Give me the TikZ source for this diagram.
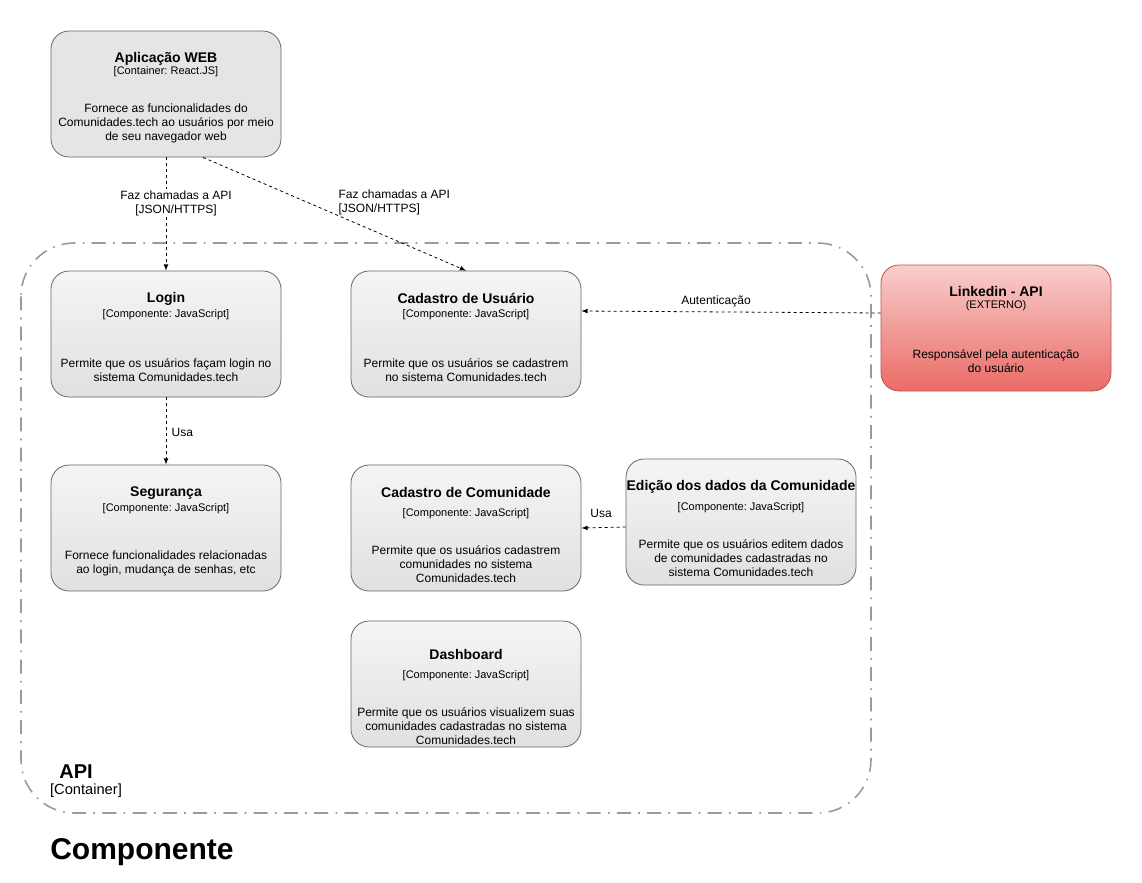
\documentclass[tikz,border=0pt]{standalone}
\usepackage{fontspec}
\setmainfont{Liberation Sans}
\frenchspacing
\usetikzlibrary{arrows}
\usetikzlibrary{calc,positioning}

\definecolor{extTop}{HTML}{F8CECC}
\definecolor{extBot}{HTML}{EA6B66}
\definecolor{extLine}{HTML}{B85450}
\definecolor{boxLine}{HTML}{666666}
\definecolor{bndLine}{HTML}{9A9A9A}

\tikzset{
  compbox/.style={draw=boxLine, line width=0.6pt, rounded corners=13.5pt,
    minimum width=172.5pt, minimum height=94.5pt, top color=black!4, bottom color=black!12},
  webbox/.style={compbox, top color=black!10, bottom color=black!10},
  extbox/.style={compbox, draw=extLine, top color=extTop, bottom color=extBot},
  ttl/.style={font=\fontsize{10.5}{12}\selectfont\bfseries, inner sep=0pt},
  tech/.style={font=\fontsize{8.25}{10}\selectfont, inner sep=0pt},
  desc/.style={font=\fontsize{9}{10.5}\selectfont, align=center, inner sep=0pt},
  lbl/.style={font=\fontsize{9}{10.5}\selectfont, align=center, inner sep=1pt},
  call/.style={dash pattern=on 2.25pt off 2.25pt, line width=0.6pt, -latex},
  boundary/.style={draw=bndLine, line width=1.2pt, rounded corners=40pt,
    dash pattern=on 10.5pt off 5.5pt on 1.2pt off 5.5pt},
}

% box with title, technology and description, offsets in px from the top edge
\newcommand{\compnode}[9]{%
  \node[#2] (#1) at (#3) {};
  \node[ttl] (#1-ttl) at ($(#1.north)+(0,#7)$) {#4};
  \node[tech] (#1-tech) at ($(#1.north)+(0,#8)$) {#5};
  \node[desc] (#1-desc) at ($(#1.north)+(0,#9)$) {#6};
}

\begin{document}
\begin{tikzpicture}[x=0.75pt,y=-0.75pt]

  \useasboundingbox (0,0) rectangle (1142,882);

  % container boundary
  \draw[boundary] (21,243) rectangle (871,813);
  \node[font=\fontsize{15}{17}\selectfont\bfseries, inner sep=0pt] (api-ttl) at (76,772) {API};
  \node[font=\fontsize{11}{13}\selectfont, inner sep=0pt] (api-tech) at (86,791) {[Container]};
  \node[font=\fontsize{22.5}{26}\selectfont\bfseries, inner sep=0pt, anchor=west] (diag-ttl) at (50,852) {Componente};

  \compnode{web}{webbox}{166,94}{Aplicação WEB}{[Container: React.JS]}
    {Fornece as funcionalidades do\\Comunidades.tech ao usuários por meio\\de seu navegador web}{28}{41}{93}

  \compnode{login}{compbox}{166,334}{Login}{[Componente: JavaScript]}
    {Permite que os usuários façam login no\\sistema Comunidades.tech}{28}{44}{100}

  \compnode{cadu}{compbox}{466,334}{Cadastro de Usuário}{[Componente: JavaScript]}
    {Permite que os usuários se cadastrem\\no sistema Comunidades.tech}{28}{44}{100}

  \compnode{linkedin}{extbox}{996,328}{Linkedin - API}{(EXTERNO)}
    {Responsável pela autenticação\\do usuário}{27}{41}{97}

  \compnode{seg}{compbox}{166,528}{Segurança}{[Componente: JavaScript]}
    {Fornece funcionalidades relacionadas\\ao login, mudança de senhas, etc}{28}{44}{99}

  \compnode{cadc}{compbox}{466,528}{Cadastro de Comunidade}{[Componente: JavaScript]}
    {Permite que os usuários cadastrem\\comunidades no sistema\\Comunidades.tech}{28}{49}{100}

  \compnode{edit}{compbox}{741,522}{Edição dos dados da Comunidade}{[Componente: JavaScript]}
    {Permite que os usuários editem dados\\de comunidades cadastradas no\\sistema Comunidades.tech}{28}{49}{100}

  \compnode{dash}{compbox}{466,684}{Dashboard}{[Componente: JavaScript]}
    {Permite que os usuários visualizem suas\\comunidades cadastradas no sistema\\Comunidades.tech}{34}{55}{106}

  % connectors
  \coordinate (web-out) at ($(web.south)+(37,0)$);
  \coordinate (link-out) at ($(linkedin.west)+(0,-15)$);
  \coordinate (cadu-in) at ($(cadu.east)+(0,-23)$);
  \coordinate (edit-out) at ($(edit.west)+(0,5)$);

  \draw[call] (web.south) -- (login.north);
  \node[lbl, fill=white] (lbl-web-login) at (176,203) {Faz chamadas a API\\{[JSON/HTTPS]}};

  \draw[call] (web-out) -- (cadu.north);
  \node[lbl, align=left, anchor=west] (lbl-web-cadu) at (337,202) {Faz chamadas a API\\{[JSON/HTTPS]}};

  \draw[call] (link-out) -- (cadu-in);
  \node[lbl] (lbl-auth) at (716,301) {Autenticação};

  \draw[call] (login.south) -- (seg.north);
  \node[lbl, anchor=west] (lbl-usa1) at (170,432) {Usa};

  \draw[call] (edit-out) -- (cadc.east);
  \node[lbl] (lbl-usa2) at (601,513) {Usa};

\end{tikzpicture}
\end{document}
